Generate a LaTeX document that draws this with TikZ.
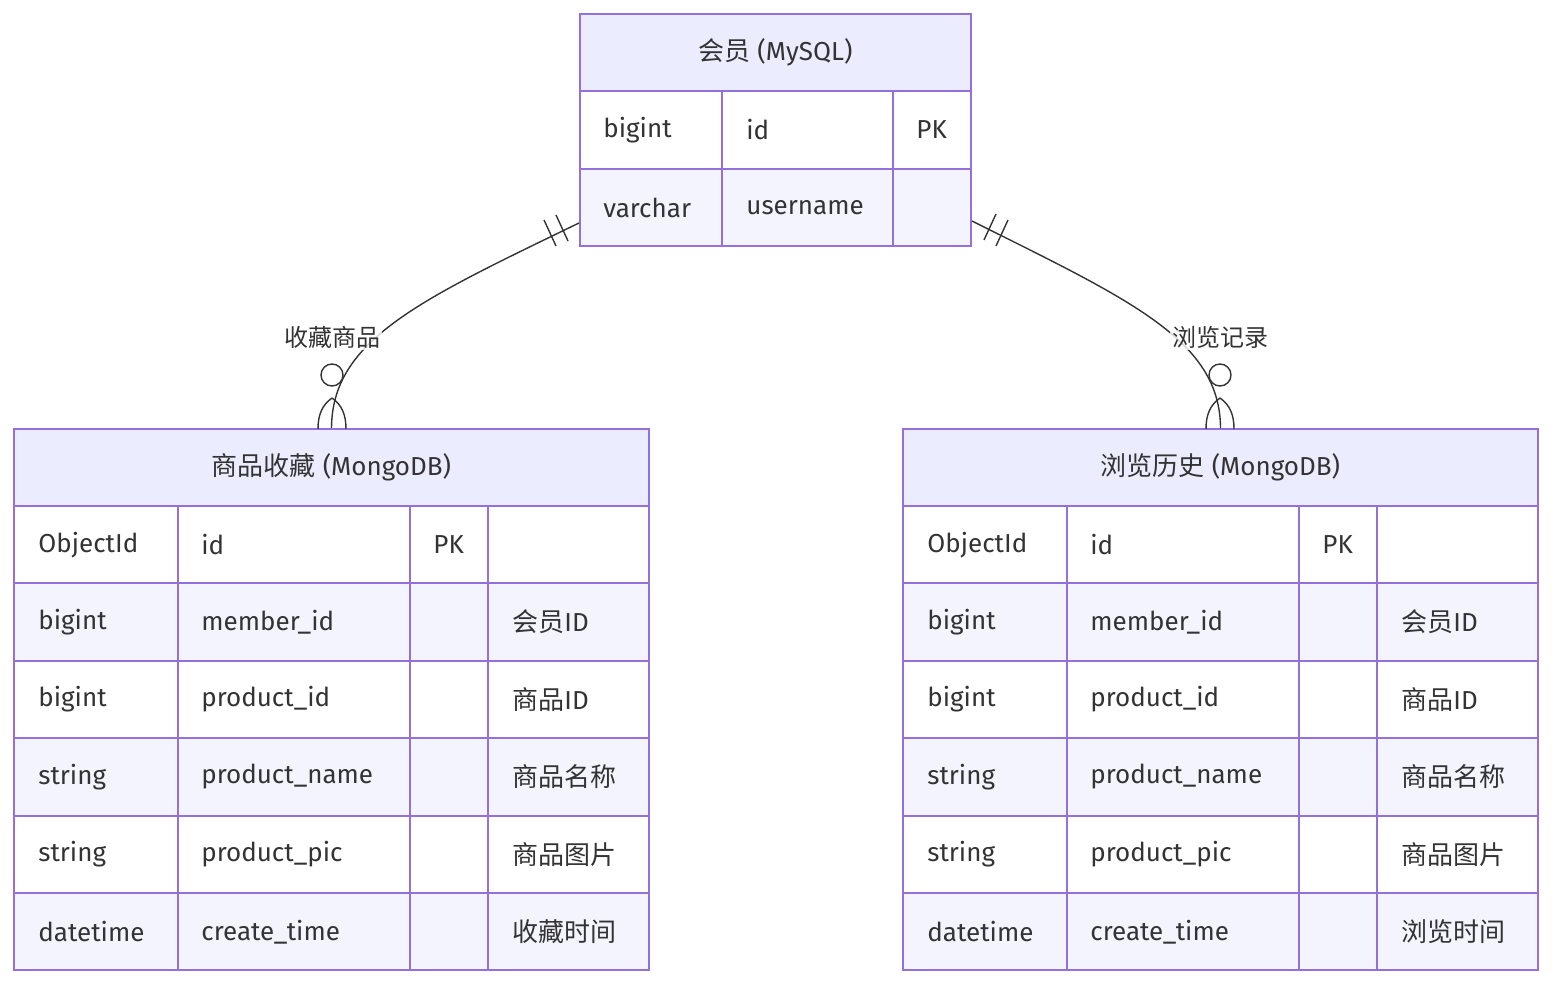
\documentclass[tikz,border=0pt]{standalone}
\usepackage{fontspec}
\setmainfont{Fira Sans}
\newfontfamily\cjk{Noto Sans CJK SC}
\definecolor{bd}{HTML}{9370DB}
\definecolor{hd}{HTML}{ECECFF}
\definecolor{ev}{HTML}{F4F4FF}
\definecolor{tx}{HTML}{333333}
\begin{document}
\begin{tikzpicture}[x=0.5pt,y=-0.5pt,
  txt/.style={anchor=west,text=tx,font=\fontsize{13}{15}\selectfont,inner sep=0},
  bx/.style={draw=bd,line width=1pt,inner sep=0},
  conn/.style={draw=tx,line width=0.7pt},
  lbl/.style={fill=white,fill opacity=0.8,text opacity=1,text=tx,font=\cjk\fontsize{12}{14}\selectfont,inner sep=1pt}]
\useasboundingbox (0,0) rectangle (1568,996);
\newcommand\drawent[4]{%
  \node[bx,minimum width=317.5pt,minimum height=270.5pt] (#1) at (#2+317.5,699.5) {};
  \fill[hd] (#2,429) rectangle (#2+635,506);
  \node[txt,anchor=center] (#1h) at (#2+317.5,467.5) {#3};
  \foreach \t/\n/\k/\c [count=\i] in {ObjectId/id/PK/,bigint/member\_id//{\cjk 会员}ID,bigint/product\_id//{\cjk 商品}ID,string/product\_name//{\cjk 商品名称},string/product\_pic//{\cjk 商品图片},datetime/create\_time//{\cjk #4}}{
    \pgfmathsetmacro\yy{506+77.4*(\i-1)}
    \ifodd\i\else\fill[ev] (#2,\yy) rectangle (#2+635,\yy+77.4);\fi
    \draw[bd,line width=1pt] (#2,\yy) -- (#2+635,\yy);
    \node[txt] at (#2+24,\yy+38.7) {\t};
    \node[txt] at (#2+187,\yy+38.7) {\n};
    \node[txt] at (#2+419,\yy+38.7) {\k};
    \node[txt] at (#2+498,\yy+38.7) {\c};
  }
  \draw[bd,line width=1pt] (#2+164,506) -- (#2+164,970) (#2+396,506) -- (#2+396,970) (#2+474,506) -- (#2+474,970);
  \node[bx,minimum width=317.5pt,minimum height=270.5pt] at (#2+317.5,699.5) {};
}
% top table
\fill[hd] (580,14) rectangle (971,91);
\fill[ev] (580,169) rectangle (971,246);
\node[bx,minimum width=195.5pt,minimum height=116pt] (mem) at (775.5,130) {};
\node[txt,anchor=center] (memh) at (775.5,52.5) {{\cjk 会员} (MySQL)};
\draw[bd,line width=1pt] (580,91) -- (971,91) (580,169) -- (971,169) (722,91) -- (722,246) (893,91) -- (893,246);
\node[txt] at (603,130) {bigint};
\node[txt] at (746,130) {id};
\node[txt] at (916,130) {PK};
\node[txt] at (603,207.5) {varchar};
\node[txt] at (746,207.5) {username};
\drawent{fav}{14}{{\cjk 商品收藏} (MongoDB)}{收藏时间}
\drawent{his}{903}{{\cjk 浏览历史} (MongoDB)}{浏览时间}
% connectors
\coordinate (m1) at ([yshift=12pt]mem.south west);
\coordinate (m2) at ([yshift=13pt]mem.south east);
\draw[conn] (m1) .. controls (420,300) and (332,340) .. (fav.north);
\draw[conn] (m2) .. controls (1130,300) and (1220,340) .. (his.north);
\foreach \c/\s in {332/1,1220/-1}{
  \draw[conn] (\c,398) .. controls (\c-10,405) and (\c-14,415) .. (\c-14,429);
  \draw[conn] (\c,398) .. controls (\c+10,405) and (\c+14,415) .. (\c+14,429);
  \draw[conn,fill=white] (\c,375) circle[radius=5.5pt];
}
\draw[conn] (550,233)+(-6,-13) -- +(6,13) (562,228)+(-6,-13) -- +(6,13);
\draw[conn] (990,227)+(6,-13) -- +(-6,13) (1002,233)+(6,-13) -- +(-6,13);
\node[lbl] (l1) at (332,337) {收藏商品};
\node[lbl] (l2) at (1220,337) {浏览记录};
\end{tikzpicture}
\end{document}
